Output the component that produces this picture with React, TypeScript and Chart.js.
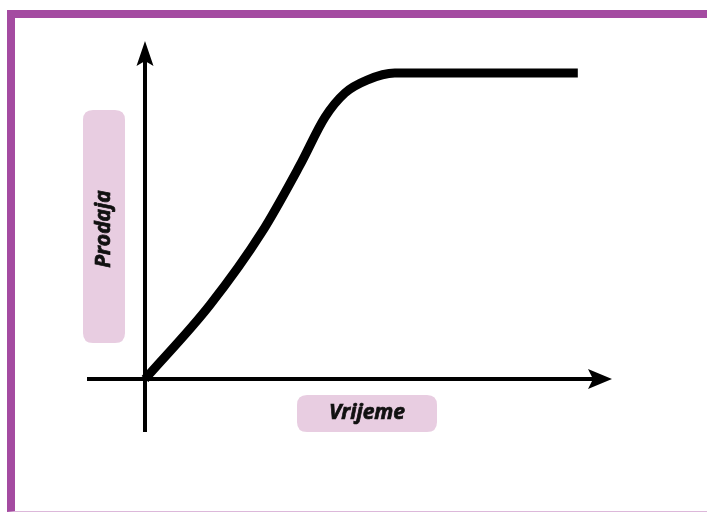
import React, { useEffect, useRef } from "react";
import { Chart, registerables } from "chart.js";

Chart.register(...registerables);

// Time (x) and sales (y) along the curve, in arbitrary units
const timeValues = [0, 1.5, 2.7, 3.58, 4.16, 4.62, 5.13, 5.77, 10];
const salesValues = [0, 2.42, 4.8, 6.99, 8.56, 9.35, 9.77, 10, 10];

const xAxisLabel = "Vrijeme";
const yAxisLabel = "Prodaja";

const X_MIN = -1.34;
const X_MAX = 10.79;
const Y_MIN = -1.73;
const Y_MAX = 11.05;

const PILL = "#e8cde1";
const FONT = "italic bold 21px 'Open Sans', sans-serif";

function roundRect(ctx: CanvasRenderingContext2D, x: number, y: number, w: number, h: number, r: number) {
  ctx.beginPath();
  ctx.moveTo(x + r, y);
  ctx.lineTo(x + w - r, y);
  ctx.quadraticCurveTo(x + w, y, x + w, y + r);
  ctx.lineTo(x + w, y + h - r);
  ctx.quadraticCurveTo(x + w, y + h, x + w - r, y + h);
  ctx.lineTo(x + r, y + h);
  ctx.quadraticCurveTo(x, y + h, x, y + h - r);
  ctx.lineTo(x, y + r);
  ctx.quadraticCurveTo(x, y, x + r, y);
  ctx.closePath();
}

const axesPlugin = {
  id: "arrowAxes",
  beforeDatasetsDraw(chart: any) {
    const ctx: CanvasRenderingContext2D = chart.ctx;
    const xs = chart.scales.x;
    const ys = chart.scales.y;
    const ox = xs.getPixelForValue(0);
    const oy = ys.getPixelForValue(0);
    const left = xs.getPixelForValue(X_MIN);
    const right = xs.getPixelForValue(X_MAX);
    const top = ys.getPixelForValue(Y_MAX);
    const bottom = ys.getPixelForValue(Y_MIN);
    ctx.save();
    ctx.strokeStyle = "#000";
    ctx.fillStyle = "#000";
    ctx.lineWidth = 4;
    ctx.lineCap = "butt";
    // y axis
    ctx.beginPath();
    ctx.moveTo(ox, bottom);
    ctx.lineTo(ox, top + 18);
    ctx.stroke();
    ctx.beginPath();
    ctx.moveTo(ox, top);
    ctx.lineTo(ox - 8.5, top + 25);
    ctx.lineTo(ox, top + 20);
    ctx.lineTo(ox + 8.5, top + 25);
    ctx.closePath();
    ctx.fill();
    // x axis
    ctx.beginPath();
    ctx.moveTo(left, oy);
    ctx.lineTo(right - 18, oy);
    ctx.stroke();
    ctx.beginPath();
    ctx.moveTo(right, oy);
    ctx.lineTo(right - 24, oy - 10);
    ctx.lineTo(right - 19, oy);
    ctx.lineTo(right - 24, oy + 10);
    ctx.closePath();
    ctx.fill();

    // axis label pills
    ctx.fillStyle = PILL;
    roundRect(ctx, ox - 62, 110, 42, 233, 10);
    ctx.fill();
    roundRect(ctx, 297, oy + 16, 140, 37, 10);
    ctx.fill();

    ctx.fillStyle = "#111";
    ctx.strokeStyle = "#111";
    ctx.lineWidth = 0.7;
    ctx.font = FONT;
    ctx.textAlign = "center";
    ctx.textBaseline = "middle";
    ctx.fillText(xAxisLabel, 367, oy + 33.5);
    ctx.strokeText(xAxisLabel, 367, oy + 33.5);
    ctx.save();
    ctx.translate(ox - 41, 229);
    ctx.rotate(-Math.PI / 2);
    ctx.fillText(yAxisLabel, 0, 0);
    ctx.strokeText(yAxisLabel, 0, 0);
    ctx.restore();
    ctx.restore();
  },
};

export default function App() {
  const ref = useRef<HTMLCanvasElement | null>(null);
  useEffect(() => {
    if (!ref.current) return;
    const chart = new Chart(ref.current, {
      type: "line",
      data: {
        datasets: [
          {
            data: timeValues.map((t, i) => ({ x: t, y: salesValues[i] })),
            borderColor: "#000",
            borderWidth: 9,
            borderCapStyle: "butt",
            borderJoinStyle: "round",
            pointRadius: 0,
            fill: false,
            cubicInterpolationMode: "monotone",
          },
        ],
      },
      options: {
        responsive: false,
        animation: false,
        layout: { padding: { left: 87, right: 95, top: 41, bottom: 80 } },
        plugins: { legend: { display: false }, tooltip: { enabled: false } },
        scales: {
          x: { type: "linear", min: X_MIN, max: X_MAX, display: false },
          y: { type: "linear", min: Y_MIN, max: Y_MAX, display: false },
        },
      },
      plugins: [axesPlugin],
    });
    return () => chart.destroy();
  }, []);

  return (
    <div style={{ position: "absolute", left: 0, top: 0, width: 707, height: 512, background: "#fff", overflow: "hidden" }}>
      <div
        style={{
          position: "absolute",
          left: 7,
          top: 10,
          width: 700,
          height: 502,
          boxSizing: "border-box",
          borderTop: "8px solid #a44ba1",
          borderLeft: "8px solid #a44ba1",
          borderBottom: "1px solid #dcb8da",
        }}
      />
      <canvas ref={ref} width={707} height={512} style={{ position: "absolute", left: 0, top: 0 }} />
    </div>
  );
}
